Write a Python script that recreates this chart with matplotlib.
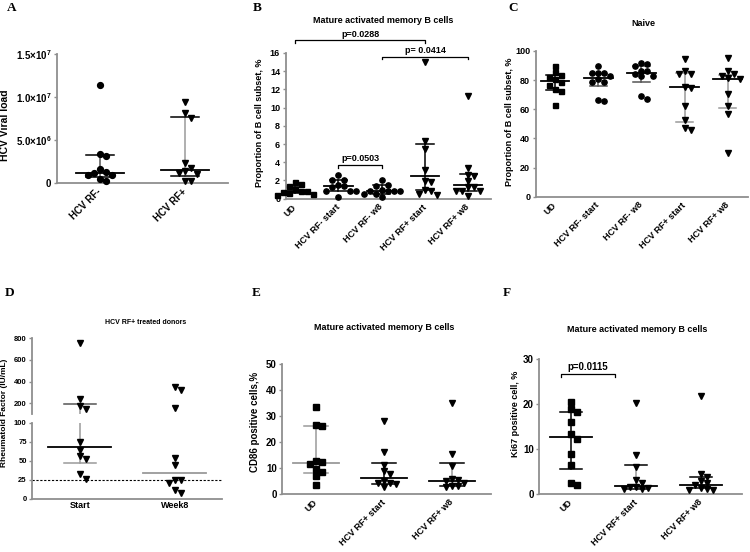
import numpy as np
import matplotlib
matplotlib.use('Agg')
import matplotlib.pyplot as plt

plt.rcParams['font.family'] = ['Liberation Sans', 'DejaVu Sans']
plt.rcParams['font.weight'] = 'bold'
plt.rcParams['mathtext.default'] = 'regular'

# ---- data ----
# A: HCV viral load
a_groups = ['HCV RF-', 'HCV RF+']
a_rf_neg = [11.34e6, 3.39e6, 3.16e6, 1.6e6, 1.29e6, 1.13e6, 0.97e6, 0.97e6, 0.43e6, 0.27e6]
a_rf_pos = [9.46e6, 8.18e6, 7.52e6, 2.29e6, 1.71e6, 1.43e6, 1.12e6, 1.05e6, 0.27e6, 0.27e6]
a_median = [1.2e6, 1.51e6]
a_q1 = [0.75e6, 0.78e6]
a_q3 = [3.2e6, 7.64e6]

# B: mature activated memory B cells
b_groups = ['UD', 'HCV RF- start', 'HCV RF- w8', 'HCV RF+ start', 'HCV RF+ w8']
b_ud = [1.85, 1.6, 1.35, 1.05, 0.9, 0.8, 0.75, 0.6, 0.5, 0.45]
b_rfn_start = [2.55, 2.05, 2.0, 1.45, 1.4, 1.3, 0.9, 0.85, 0.85, 0.2]
b_rfn_w8 = [2.0, 1.5, 1.4, 0.95, 0.9, 0.85, 0.85, 0.8, 0.55, 0.5, 0.15]
b_rfp_start = [15.0, 6.3, 5.5, 3.2, 1.9, 1.8, 1.0, 0.9, 0.5, 0.4]
b_rfp_w8 = [11.25, 3.4, 2.6, 2.5, 1.9, 1.3, 1.25, 0.9, 0.85, 0.8, 0.3]
b_median = [0.85, 1.4, 0.88, 2.45, 1.47]
b_q1 = [0.6, 0.88, 0.5, 0.95, 0.88]
b_q3 = [1.3, 2.05, 1.45, 6.0, 2.67]
b_pvals = ['p=0.0288', 'p= 0.0414', 'p=0.0503']
b_pairs = [(0, 3), (2, 4), (1, 2)]
b_bracket_y = [17.4, 15.6, 3.7]

# C: naive
c_groups = b_groups
c_ud = [90, 85.5, 83.5, 82, 80.5, 79, 77, 74, 72.5, 63]
c_rfn_start = [90, 85, 85, 85, 83, 80.5, 79, 79, 66.5, 65.5]
c_rfn_w8 = [91.5, 91, 90, 86.5, 86, 84, 83, 82.5, 69, 67]
c_rfp_start = [94.5, 86.5, 84.5, 84, 75.5, 74.5, 62, 52.5, 47, 46]
c_rfp_w8 = [95, 86.5, 84, 83, 81.5, 80.5, 70.5, 62, 56.5, 30]
c_median = [79.4, 81.7, 84.7, 75, 80.8]
c_q1 = [73.5, 76.2, 78.7, 51, 60.6]
c_q3 = [83.5, 84.5, 89.5, 84.7, 83.5]

# D: rheumatoid factor
d_groups = ['Start', 'Week8']
d_start = [754, 240, 175, 145, 75, 64, 56, 52, 33, 26]
d_week8 = [354, 323, 154, 54, 44, 25, 24.5, 21, 12, 8]
d_median = [68.4, 34.2]
d_q1_start = 46.5
d_q3_start = 191
d_cutoff = 25

# E: CD86
e_groups = ['UD', 'HCV RF+ start', 'HCV RF+ w8']
e_ud = [33.3, 26.5, 26, 12.7, 12.3, 11.4, 9.4, 8.5, 7, 3.5]
e_rfp_start = [28, 16.2, 11, 8.8, 7.5, 5, 4.2, 4, 3.8, 2.7]
e_rfp_w8 = [34.8, 15.2, 10.8, 5.6, 5.4, 5, 4, 3.1, 3, 2.4]
e_median = [12, 6, 4.9]
e_q1 = [8.1, 3.6, 3.0]
e_q3 = [26.1, 12, 11.7]

# F: Ki67
f_groups = e_groups
f_ud = [20.4, 18.8, 18.2, 15.9, 13.3, 12.1, 8.9, 6.4, 2.3, 2.0]
f_rfp_start = [20.2, 8.6, 5.9, 3.0, 2.3, 1.4, 1.4, 1.2, 1.0, 1.0]
f_rfp_w8 = [21.7, 4.3, 3.8, 2.8, 2.3, 1.9, 1.2, 1.0, 0.8, 0.8]
f_median = [12.6, 1.7, 1.9]
f_q1 = [5.5, 1.0, 1.2]
f_q3 = [18.3, 6.4, 3.8]

# ---- layout helpers (pixel based, 750x552) ----
W, H = 750, 552
AX_GRAY = '#8f8f8f'
LG = '#9a9a9a'   # light gray error lines
DG = '#555555'

fig = plt.figure(figsize=(7.5, 5.52), dpi=100)


def add_ax(l, t, r, b):
    return fig.add_axes([l / W, 1 - b / H, (r - l) / W, (b - t) / H])


def ftext(x, y, s, **kw):
    fig.text(x / W, 1 - y / H, s, ha='center', va='center', **kw)


def style(ax, fs=6.5):
    for s in ['top', 'right']:
        ax.spines[s].set_visible(False)
    for s in ['left', 'bottom']:
        ax.spines[s].set_color(AX_GRAY)
        ax.spines[s].set_linewidth(1.3)
    ax.tick_params(axis='y', length=2.5, width=1, color=AX_GRAY, labelsize=fs, pad=1.5)
    ax.tick_params(axis='x', length=0, labelsize=fs, pad=3)
    ax.patch.set_alpha(0)


def set_cats(ax, labels, fs):
    ax.set_xticks(range(len(labels)))
    ax.set_xticklabels(labels, rotation=45, ha='right', va='center',
                       rotation_mode='anchor', fontsize=fs, fontweight='bold')


def swarm(ax, x0, vals, d=6.0):
    tr = ax.transData
    ux = tr.transform((1, 0))[0] - tr.transform((0, 0))[0]
    placed, xs = [], []
    for v in vals:
        y = tr.transform((x0, v))[1]
        k = 0
        while True:
            off = ((k + 1) // 2) * d * (1 if k % 2 == 1 else -1)
            if all((off - px) ** 2 + (y - py) ** 2 >= (0.95 * d) ** 2 for px, py in placed):
                break
            k += 1
        placed.append((off, y))
        xs.append(x0 + off / ux)
    return xs


def points(ax, x0, vals, marker, ms):
    xs = swarm(ax, x0, vals)
    ax.plot(xs, vals, ls='none', marker=marker, ms=ms, color='black',
            mec='black', zorder=3, clip_on=False)


def summary(ax, x, med, q1, q3, mw, cw, vcol='black', ccol='black', mcol='black'):
    ax.plot([x, x], [q1, q3], color=vcol, lw=1.1, zorder=2)
    ax.plot([x - cw, x + cw], [q1, q1], color=ccol, lw=1.1, zorder=2)
    ax.plot([x - cw, x + cw], [q3, q3], color=ccol, lw=1.1, zorder=2)
    ax.plot([x - mw, x + mw], [med, med], color=mcol, lw=1.3, zorder=2)


def bracket(ax, x1, x2, y, tick, text, fs=6.5):
    ax.plot([x1, x1, x2, x2], [y - tick, y, y, y - tick], color='black', lw=0.9, clip_on=False)
    ax.annotate(text, ((x1 + x2) / 2, y), xytext=(0, 1.2), textcoords='offset points',
                ha='center', va='bottom', fontsize=fs, fontweight='bold', annotation_clip=False)


# ---- Panel A ----
ax = add_ax(57, 54, 228, 183)
style(ax, 7)
ax.set_xlim(-0.5, 1.5)
ax.set_ylim(0, 1.5e7)
ax.set_yticks([0, 5e6, 1e7, 1.5e7])
ax.set_yticklabels(['0', '5.0×10$^{6}$', '1.0×10$^{7}$', '1.5×10$^{7}$'])
set_cats(ax, a_groups, 7)
ax.tick_params(axis='x', pad=5)
points(ax, 0, a_rf_neg, 'o', 4.2)
points(ax, 1, a_rf_pos, 'v', 4.2)
summary(ax, 0, a_median[0], a_q1[0], a_q3[0], 0.28, 0.165, vcol=DG)
summary(ax, 1, a_median[1], a_q1[1], a_q3[1], 0.28, 0.165, vcol=LG)
ftext(5, 125, 'HCV Viral load', rotation=90, fontsize=7.5, fontweight='bold')

# ---- Panel B ----
ax = add_ax(285.7, 53, 490.7, 198.7)
style(ax, 6.5)
ax.set_xlim(-0.22, 4.52)
ax.set_ylim(0, 16)
ax.set_yticks(range(0, 17, 2))
set_cats(ax, b_groups, 6.5)
ax.tick_params(axis='x', pad=5)
b_sets = [(b_ud, 's', 3.6), (b_rfn_start, 'o', 3.8), (b_rfn_w8, 'o', 3.8),
          (b_rfp_start, 'v', 4), (b_rfp_w8, 'v', 4)]
for i, (vals, m, ms) in enumerate(b_sets):
    points(ax, i, vals, m, ms)
    summary(ax, i, b_median[i], b_q1[i], b_q3[i], 0.33, 0.2)
for (i1, i2), yb, txt in zip(b_pairs, b_bracket_y, b_pvals):
    bracket(ax, i1, i2, yb, 0.3, txt)
ftext(382.7, 20.7, 'Mature activated memory B cells', fontsize=6.5, fontweight='bold')
ftext(260, 123, 'Proportion of B cell subset, %', rotation=90, fontsize=6.5, fontweight='bold')

# ---- Panel C ----
ax = add_ax(535.7, 51, 748, 196.7)
style(ax, 6.5)
ax.set_xlim(-0.45, 4.47)
ax.set_ylim(0, 100)
ax.set_yticks(range(0, 101, 20))
set_cats(ax, c_groups, 6.5)
ax.tick_params(axis='x', pad=5)
c_sets = [(c_ud, 's', 3.6), (c_rfn_start, 'o', 3.8), (c_rfn_w8, 'o', 3.8),
          (c_rfp_start, 'v', 4), (c_rfp_w8, 'v', 4)]
c_vcols = ['black', DG, DG, LG, LG]
c_ccols = ['black', DG, DG, LG, LG]
for i, (vals, m, ms) in enumerate(c_sets):
    points(ax, i, vals, m, ms)
    summary(ax, i, c_median[i], c_q1[i], c_q3[i], 0.33, 0.2, vcol=c_vcols[i], ccol=c_ccols[i])
ftext(643, 24, 'Naive', fontsize=6.5, fontweight='bold')
ftext(510, 122, 'Proportion of B cell subset, %', rotation=90, fontsize=6.5, fontweight='bold')

# ---- Panel D (broken y axis) ----
axl = add_ax(32.3, 422.7, 222.3, 498.7)
axu = add_ax(32.3, 338.3, 222.3, 414.2)
for a in (axl, axu):
    style(a, 5.5)
    a.set_xlim(-0.5, 1.5)
axu.spines['bottom'].set_visible(False)
axu.set_xticks([])
axl.set_ylim(0, 100)
axl.set_yticks([0, 25, 50, 75, 100])
axu.set_ylim(100, 800)
axu.set_yticks([200, 400, 600, 800])
axl.set_xticks([0, 1])
axl.set_xticklabels(d_groups, fontsize=6.5, fontweight='bold')
axl.tick_params(axis='x', pad=2)
for i, (vals, m) in enumerate([(d_start, 'v'), (d_week8, 'v')]):
    lo = [v for v in vals if v <= 100]
    hi = [v for v in vals if v > 100]
    points(axl, i, lo, m, 3.8)
    points(axu, i, hi, m, 3.8)
axl.plot([0, 0], [d_q1_start, 100], color=LG, lw=1.1, zorder=2)
axu.plot([0, 0], [100, d_q3_start], color=LG, lw=1.1, zorder=2)
axl.plot([-0.17, 0.17], [d_q1_start] * 2, color=LG, lw=1.1)
axu.plot([-0.17, 0.17], [d_q3_start] * 2, color=DG, lw=1.1)
axl.plot([-0.33, 0.33], [d_median[0]] * 2, color='black', lw=1.3)
axl.plot([0.67, 1.33], [d_median[1]] * 2, color=LG, lw=1.3)
axl.axhline(d_cutoff, color='black', lw=0.8, ls=(0, (2, 1.5)), zorder=1)
ftext(145.3, 322.3, 'HCV RF+ treated donors', fontsize=5, fontweight='bold')
ftext(5, 413, 'Rheumatoid Factor (IU/mL)', rotation=90, fontsize=6, fontweight='bold')

# ---- Panel E ----
ax = add_ax(282.3, 364, 490.7, 493.7)
style(ax, 7)
ax.set_xlim(-0.5, 2.57)
ax.set_ylim(0, 50)
ax.set_yticks(range(0, 51, 10))
set_cats(ax, e_groups, 6.5)
ax.tick_params(axis='x', pad=5)
e_sets = [(e_ud, 's', 4), (e_rfp_start, 'v', 4), (e_rfp_w8, 'v', 4)]
e_vcols = [LG, 'black', LG]
e_ccols = [LG, 'black', 'black']
e_mcols = [LG, 'black', 'black']
for i, (vals, m, ms) in enumerate(e_sets):
    points(ax, i, vals, m, ms)
    summary(ax, i, e_median[i], e_q1[i], e_q3[i], 0.34, 0.18,
            vcol=e_vcols[i], ccol=e_ccols[i], mcol=e_mcols[i])
ftext(384.3, 327.7, 'Mature activated memory B cells', fontsize=6.5, fontweight='bold')
ftext(255, 422, 'CD86 positive cells,%', rotation=90, fontsize=7, fontweight='bold')

# ---- Panel F ----
ax = add_ax(539.3, 359.3, 742.3, 493.7)
style(ax, 7)
ax.set_xlim(-0.49, 2.635)
ax.set_ylim(0, 30)
ax.set_yticks([0, 10, 20, 30])
set_cats(ax, f_groups, 6.5)
ax.tick_params(axis='x', pad=5)
f_sets = [(f_ud, 's', 4), (f_rfp_start, 'v', 4), (f_rfp_w8, 'v', 4)]
f_vcols = ['black', LG, LG]
for i, (vals, m, ms) in enumerate(f_sets):
    points(ax, i, vals, m, ms)
    summary(ax, i, f_median[i], f_q1[i], f_q3[i], 0.32, 0.17, vcol=f_vcols[i])
bracket(ax, -0.16, 0.68, 26.7, 0.6, 'p=0.0115', fs=7)
ftext(636.7, 329, 'Mature activated memory B cells', fontsize=6.5, fontweight='bold')
ftext(515, 414, 'Ki67 positive cell, %', rotation=90, fontsize=6.5, fontweight='bold')

# ---- panel letters ----
for lab, (x, y) in zip('ABCDEF', [(11.7, 8), (257, 8), (512.7, 8),
                                  (10, 293), (256, 293), (506.7, 293)]):
    ftext(x, y, lab, fontsize=9.5, fontweight='bold', family='Liberation Serif')

fig.savefig('out.png', dpi=100)
